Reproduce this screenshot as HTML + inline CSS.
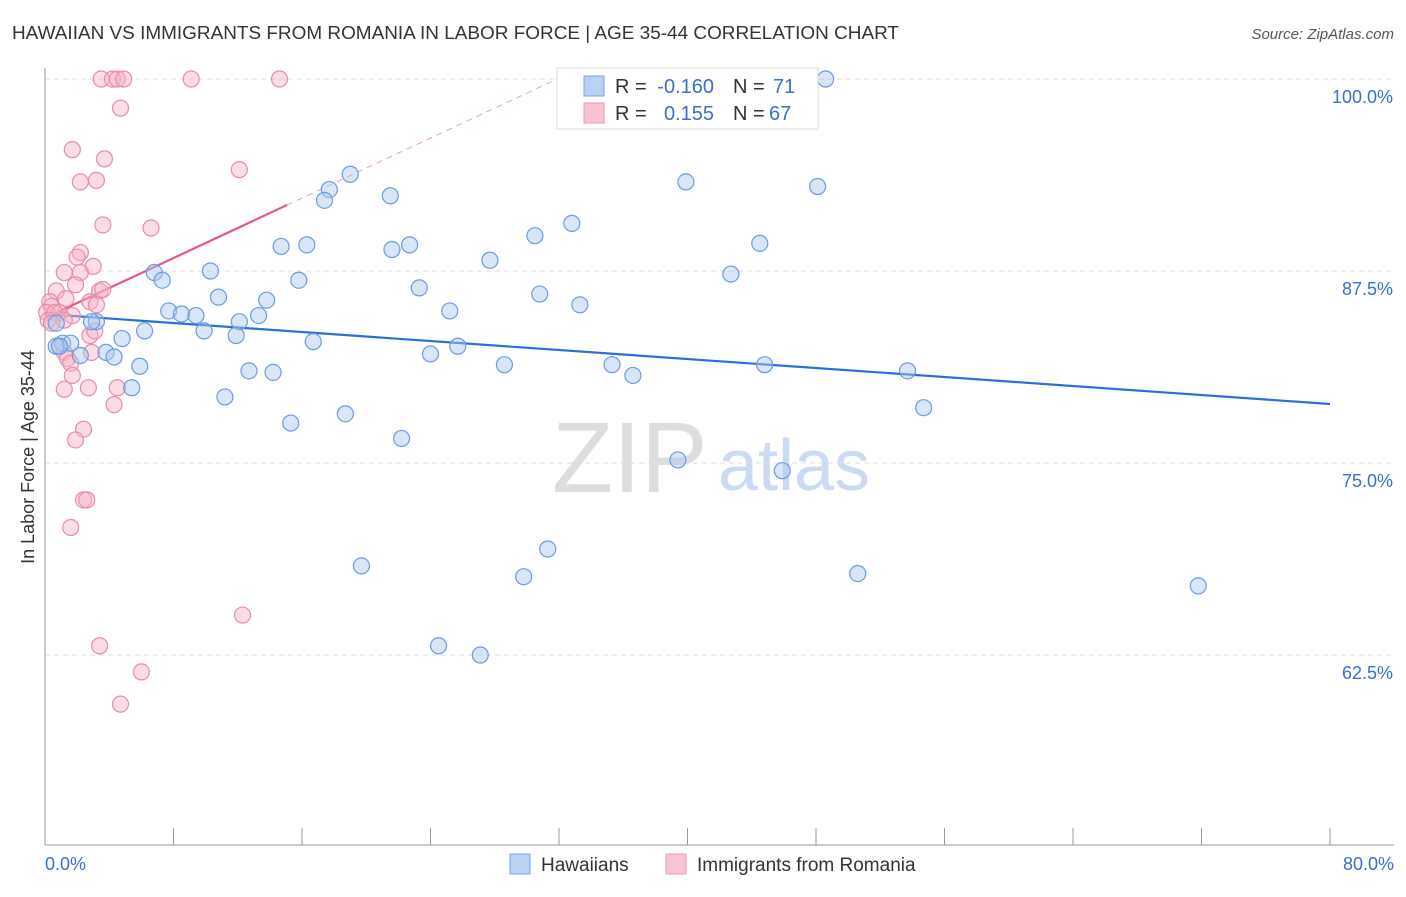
<!DOCTYPE html>
<html><head><meta charset="utf-8"><style>
body{margin:0;background:#fff;font-family:"Liberation Sans",sans-serif;}
svg text{font-family:"Liberation Sans",sans-serif;}
</style></head><body>
<svg id="chart" width="1406" height="892">
<text x="12" y="39" font-size="18" fill="#333" textLength="887" lengthAdjust="spacingAndGlyphs">HAWAIIAN VS IMMIGRANTS FROM ROMANIA IN LABOR FORCE | AGE 35-44 CORRELATION CHART</text>
<text x="1394" y="39" font-size="15" fill="#555" text-anchor="end" font-style="italic">Source: ZipAtlas.com</text>
<text x="34" y="457" font-size="18" fill="#333" text-anchor="middle" transform="rotate(-90 34 457)">In Labor Force | Age 35-44</text>
<g><text x="552" y="492" font-size="100" fill="#ddd" font-family="Liberation Serif">ZIP</text><text x="718" y="490" font-size="72" fill="#c9daf2">atlas</text></g>
<g id="grid"></g><g id="axes"></g><g id="lines"></g><g id="pts"></g>
<g>
<rect x="557" y="68" width="261" height="61" fill="#fff" stroke="#ddd"/>
<rect x="584" y="76" width="20" height="20" fill="#b8d2f4" stroke="#7aa6e4"/>
<rect x="584" y="103" width="20" height="20" fill="#fac4d4" stroke="#ec98b4"/>
<text x="615" y="93" font-size="20" fill="#333">R =</text>
<text x="714" y="93" font-size="20" fill="#3a6fd0" text-anchor="end">-0.160</text>
<text x="733" y="93" font-size="20" fill="#333">N =</text>
<text x="773" y="93" font-size="20" fill="#3a6fd0">71</text>
<text x="615" y="120" font-size="20" fill="#333">R =</text>
<text x="714" y="120" font-size="20" fill="#3a6fd0" text-anchor="end">0.155</text>
<text x="733" y="120" font-size="20" fill="#333">N =</text>
<text x="769" y="120" font-size="20" fill="#3a6fd0">67</text>
</g>
<g>
<rect x="510" y="854" width="20" height="20" fill="#b8d2f4" stroke="#7aa6e4"/>
<text x="541" y="871" font-size="19" fill="#333">Hawaiians</text>
<rect x="666" y="854" width="20" height="20" fill="#fac4d4" stroke="#ec98b4"/>
<text x="697" y="871" font-size="19" fill="#333">Immigrants from Romania</text>
</g>
</svg>
<script>
const yTicks=[100,87.5,75,62.5];
const yTickLabels=["100.0%","87.5%","75.0%","62.5%"];
const xTickLabels=["0.0%","80.0%"];
const blueX=[48.6,39.9,48.1,19.0,17.7,17.4,21.5,32.8,30.5,44.5,14.7,16.3,22.7,21.6,27.7,42.7,6.8,7.3,10.3,15.8,23.3,30.8,33.3,10.8,13.8,25.2,7.7,8.5,9.4,13.3,12.1,3.2,2.9,9.9,11.9,6.2,4.8,16.7,25.7,24.0,1.1,0.7,1.6,2.2,3.8,4.3,5.9,28.6,35.3,44.8,36.6,53.7,12.7,14.2,5.4,11.2,18.7,54.7,15.3,22.2,39.4,45.9,31.3,19.7,29.8,50.6,71.8,24.5,27.1,0.7,0.9];
const blueY=[100,93.3,93.0,93.8,92.8,92.1,92.4,90.6,89.8,89.3,89.1,89.2,89.2,88.9,88.2,87.3,87.4,86.9,87.5,86.9,86.4,86.0,85.3,85.8,85.6,84.9,84.9,84.7,84.6,84.6,84.2,84.2,84.2,83.6,83.3,83.6,83.1,82.9,82.6,82.1,82.8,82.6,82.8,82.0,82.2,81.9,81.3,81.4,81.4,81.4,80.7,81.0,81.0,80.9,79.9,79.3,78.2,78.6,77.6,76.6,75.2,74.5,69.4,68.3,67.6,67.8,67.0,63.1,62.5,84.1,82.6];
const pinkX=[3.5,4.2,4.5,4.9,9.1,14.6,4.7,1.7,3.7,2.2,3.2,12.1,3.6,6.6,2.2,2.0,3.0,1.2,2.2,1.9,3.4,3.6,0.7,1.3,2.8,3.2,0.3,0.4,0.9,1.7,0.1,0.6,1.2,0.2,0.4,2.8,3.1,1.2,1.4,1.6,1.7,2.7,1.2,4.5,4.3,2.4,1.9,2.4,2.6,1.6,12.3,3.4,6.0,4.7,0.9,2.9];
const pinkY=[100,100,100,100,100,100,98.1,95.4,94.8,93.3,93.4,94.1,90.5,90.3,88.7,88.4,87.8,87.4,87.4,86.6,86.2,86.3,86.2,85.7,85.5,85.3,85.5,85.2,84.8,84.6,84.8,84.8,84.3,84.3,84.1,83.3,83.6,82.2,81.8,81.5,80.7,79.9,79.8,79.9,78.8,77.2,76.5,72.6,72.6,70.8,65.1,63.1,61.4,59.3,82.6,82.2];
const blueLine=[84.7,78.84];
const pinkLine=[84.44,0.488];
const X=v=>45+v*1285/80, Y=v=>79+(100-v)*15.36;
const NS="http://www.w3.org/2000/svg";
function mk(t,a,p){const e=document.createElementNS(NS,t);for(const k in a)e.setAttribute(k,a[k]);p.appendChild(e);return e;}
const g=document.getElementById('grid');
yTicks.forEach((t,i)=>{
 const l=mk('line',{x1:45,x2:1394,y1:Y(t),y2:Y(t),stroke:'#ddd','stroke-dasharray':'5,4'},g);
 
 
 const tx=mk('text',{x:1393,y:Y(t)+24,'font-size':18,fill:'#3a6fd0','text-anchor':'end'},g);
 tx.textContent=yTickLabels[i];
 
 
});
const ax=document.getElementById('axes');
const a1=mk('line',{x1:45,x2:45,y1:68,y2:845,stroke:'#999'},ax);


const a2=mk('line',{x1:45,x2:1394,y1:845,y2:845,stroke:'#999'},ax);


for(let i=0;i<=10;i++){const t=mk('line',{x1:X(i*8),x2:X(i*8),y1:828,y2:845,stroke:'#999'},ax);
 
 }
xTickLabels.forEach((s,i)=>{const t=mk('text',{x:i?1394:45,y:870,'font-size':18,fill:'#3a6fd0','text-anchor':i?'end':'start'},ax);t.textContent=s;
 
 });
const pg=document.getElementById('pts');
function pts(xs,ys,fill,stroke,name){xs.forEach((x,i)=>{const c=mk('circle',{cx:X(x),cy:Y(ys[i]),r:8,fill:fill,'fill-opacity':0.45,stroke:stroke,'stroke-width':1.2},pg);
 
 });}
pts(pinkX,pinkY,'#f8b4c8','#e88aaa','romania-point');
pts(blueX,blueY,'#a8c8f0','#6a9be0','hawaiian-point');
const lg=document.getElementById('lines');
const bl=mk('line',{x1:X(0),y1:Y(blueLine[0]),x2:X(80),y2:Y(blueLine[1]),stroke:'#2a6fd6','stroke-width':2.2},lg);


const xe=15.07,xd=(100-pinkLine[0])/pinkLine[1];
const pl=mk('line',{x1:X(0),y1:Y(pinkLine[0]),x2:X(xe),y2:Y(pinkLine[0]+pinkLine[1]*xe),stroke:'#e8578a','stroke-width':2.2},lg);


const pd=mk('line',{x1:X(xe),y1:Y(pinkLine[0]+pinkLine[1]*xe),x2:X(xd),y2:Y(100),stroke:'#e8a0b8','stroke-width':1,'stroke-dasharray':'6,5'},lg);


</script>
</body></html>
